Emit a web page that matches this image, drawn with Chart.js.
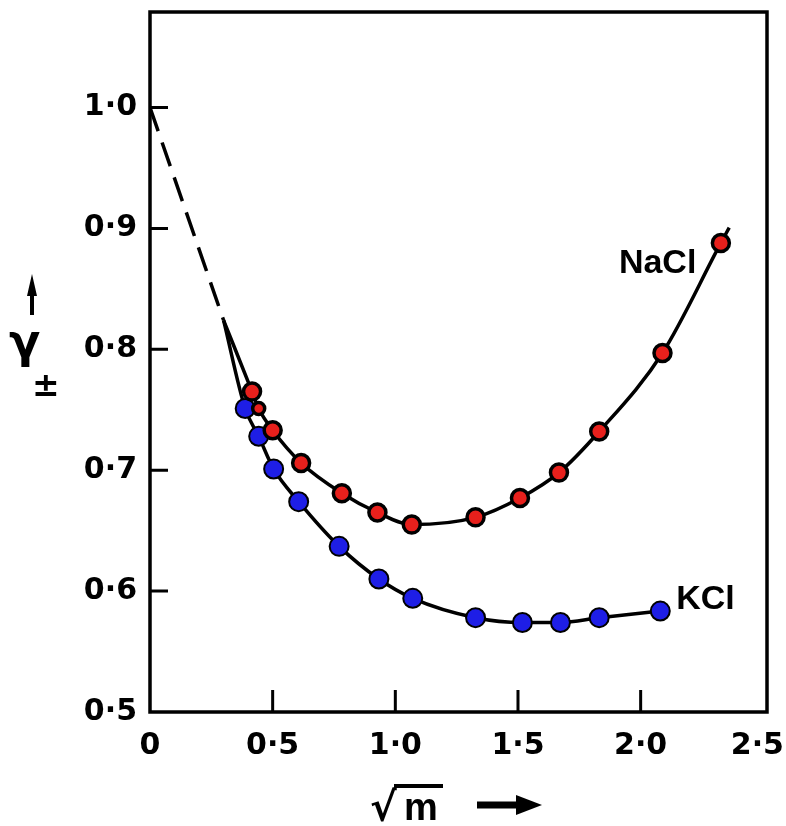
<!DOCTYPE html>
<html>
<head>
<meta charset="utf-8">
<script src="https://cdn.jsdelivr.net/npm/chart.js@4.4.0/dist/chart.umd.min.js"></script>
<style>
html,body{margin:0;padding:0;background:#fff;}
#wrap{width:786px;height:826px;position:relative;}
canvas{display:block;}
</style>
</head>
<body>
<div id="wrap"><canvas id="c" width="786" height="826"></canvas></div>
<script>
// ---- data ----
const naclX = [0.416, 0.443, 0.500, 0.616, 0.782, 0.927, 1.067, 1.327, 1.508, 1.667, 1.831, 2.089, 2.327];
const naclY = [0.765, 0.751, 0.733, 0.706, 0.681, 0.665, 0.655, 0.661, 0.677, 0.698, 0.732, 0.797, 0.888];
const kclX  = [0.388, 0.443, 0.504, 0.606, 0.771, 0.933, 1.071, 1.327, 1.518, 1.673, 1.831, 2.080];
const kclY  = [0.751, 0.728, 0.701, 0.674, 0.637, 0.610, 0.594, 0.578, 0.574, 0.574, 0.578, 0.5835];
// dashed limiting-law extrapolation to sqrt(m)=0, and where both solid curves start
const limitX = [0, 0.30];
const limitY = [1.0, 0.824];
// end of the drawn NaCl curve beyond its last point
const naclTailX = [2.361];
const naclTailY = [0.9006];
const xTickValues = [0, 0.5, 1.0, 1.5, 2.0, 2.5];
const xTickLabels = ['0', '0·5', '1·0', '1·5', '2·0', '2·5'];
const yTickValues = [0.5, 0.6, 0.7, 0.8, 0.9, 1.0];
const yTickLabels = ['0·5', '0·6', '0·7', '0·8', '0·9', '1·0'];
const seriesNames = ['NaCl', 'KCl'];

const pts = (xs, ys) => xs.map((x, i) => ({x, y: ys[i]}));
const nacl = pts(naclX, naclY);
const kcl = pts(kclX, kclY);
const limit = pts(limitX, limitY);
const start = limit[limit.length - 1];
const naclCurve = [start, ...nacl, ...pts(naclTailX, naclTailY)];
const kclCurve = [start, ...kcl];

const RED = '#e8201c', BLUE = '#1e1ee6';

const framePlugin = {
  id: 'frame',
  beforeDatasetsDraw(chart) {
    const {ctx, chartArea: a, scales: {x, y}} = chart;
    ctx.save();
    ctx.strokeStyle = '#000';
    ctx.lineWidth = 3.5;
    ctx.strokeRect(a.left, a.top, a.right - a.left, a.bottom - a.top);
    ctx.lineWidth = 3;
    ctx.beginPath();
    yTickValues.forEach(v => {
      if (v === y.min) return;
      const p = y.getPixelForValue(v);
      ctx.moveTo(a.left, p); ctx.lineTo(a.left + 18, p);
    });
    xTickValues.forEach(v => {
      const p = x.getPixelForValue(v);
      if (p <= a.left + 3 || p >= a.right - 6) return;
      ctx.moveTo(p, a.bottom); ctx.lineTo(p, a.bottom - 22);
    });
    ctx.stroke();
    ctx.restore();
  },
  afterDraw(chart) {
    const {ctx, scales: {x, y}} = chart;
    ctx.save();
    ctx.fillStyle = '#000';
    ctx.strokeStyle = '#000';
    // series labels
    ctx.font = 'bold 34px "Liberation Sans", Arial, sans-serif';
    ctx.textBaseline = 'alphabetic';
    ctx.textAlign = 'right';
    ctx.fillText(seriesNames[0], x.getPixelForValue(2.227), y.getPixelForValue(0.863));
    ctx.textAlign = 'left';
    ctx.fillText(seriesNames[1], x.getPixelForValue(2.145), y.getPixelForValue(0.5855));

    // y axis title: arrow, gamma, ± subscript
    ctx.lineWidth = 4;
    ctx.beginPath(); ctx.moveTo(32, 315); ctx.lineTo(32, 292); ctx.stroke();
    ctx.beginPath(); ctx.moveTo(32, 274); ctx.lineTo(37, 296); ctx.lineTo(27, 296); ctx.closePath(); ctx.fill();
    ctx.textAlign = 'left';
    ctx.font = 'bold 46px "DejaVu Sans", sans-serif';
    ctx.fillText('γ', 9, 357);
    ctx.font = 'bold 33px "DejaVu Sans", sans-serif';
    ctx.fillText('±', 32, 396);

    // x axis title: sqrt(m) and arrow
    ctx.font = 'bold 40px "DejaVu Sans", sans-serif';
    ctx.fillText('√', 370, 821);
    ctx.font = 'bold 38px "Liberation Sans", Arial, sans-serif';
    ctx.fillText('m', 404, 820);
    ctx.lineWidth = 4;
    ctx.beginPath(); ctx.moveTo(394, 786); ctx.lineTo(443, 786); ctx.stroke();
    ctx.lineWidth = 7;
    ctx.beginPath(); ctx.moveTo(477, 805); ctx.lineTo(520, 805); ctx.stroke();
    ctx.beginPath(); ctx.moveTo(542, 805); ctx.lineTo(516, 795); ctx.lineTo(516, 815); ctx.closePath(); ctx.fill();
    ctx.restore();
  }
};

const tickFont = {family: '"DejaVu Sans", sans-serif', size: 30, weight: 'bold'};
const noPad = s => { s.paddingTop = 0; s.paddingBottom = 0; s.paddingLeft = 0; s.paddingRight = 0; };

new Chart(document.getElementById('c'), {
  type: 'scatter',
  data: {
    datasets: [
      {label: 'limit', data: limit, showLine: true, borderColor: '#000', borderWidth: 3.5,
       borderDash: [25, 12], pointRadius: 0, order: 3},
      {label: 'NaCl curve', data: naclCurve, showLine: true, borderColor: '#000', borderWidth: 3.5,
       cubicInterpolationMode: 'monotone', pointRadius: 0, order: 2},
      {label: 'KCl curve', data: kclCurve, showLine: true, borderColor: '#000', borderWidth: 3.5,
       cubicInterpolationMode: 'monotone', pointRadius: 0, order: 2},
      {label: 'KCl', data: kcl, showLine: false, backgroundColor: BLUE, borderColor: '#000',
       borderWidth: 2, pointRadius: 9.5, order: 1},
      {label: 'NaCl', data: nacl, showLine: false, backgroundColor: RED, borderColor: '#000',
       borderWidth: 3.5, pointRadius: ctx => ctx.dataIndex === 1 ? 6 : 8.5, order: 0}
    ]
  },
  options: {
    responsive: false,
    animation: false,
    devicePixelRatio: 1,
    layout: {padding: {top: 12, right: 19, left: 0, bottom: 0}},
    plugins: {legend: {display: false}, tooltip: {enabled: false}},
    scales: {
      x: {
        type: 'linear', min: 0, max: 2.515,
        grid: {display: false, drawTicks: false},
        border: {display: false},
        afterBuildTicks: s => { s.ticks = xTickValues.map(v => ({value: v})); },
        afterFit: s => { s.height = 114; noPad(s); },
        ticks: {font: tickFont, color: '#000', padding: 16, maxRotation: 0, autoSkip: false,
                callback: (v, i) => i === xTickLabels.length - 1 ? xTickLabels[i] + '\u2009\u2009' : xTickLabels[i]}
      },
      y: {
        type: 'linear', min: 0.5, max: 1.079,
        grid: {display: false, drawTicks: false},
        border: {display: false},
        afterBuildTicks: s => { s.ticks = yTickValues.map(v => ({value: v})); },
        afterFit: s => { s.width = 150; noPad(s); },
        ticks: {font: tickFont, color: '#000', padding: 13, autoSkip: false,
                callback: (v, i) => yTickLabels[i]}
      }
    }
  },
  plugins: [framePlugin]
});
</script>
</body>
</html>
